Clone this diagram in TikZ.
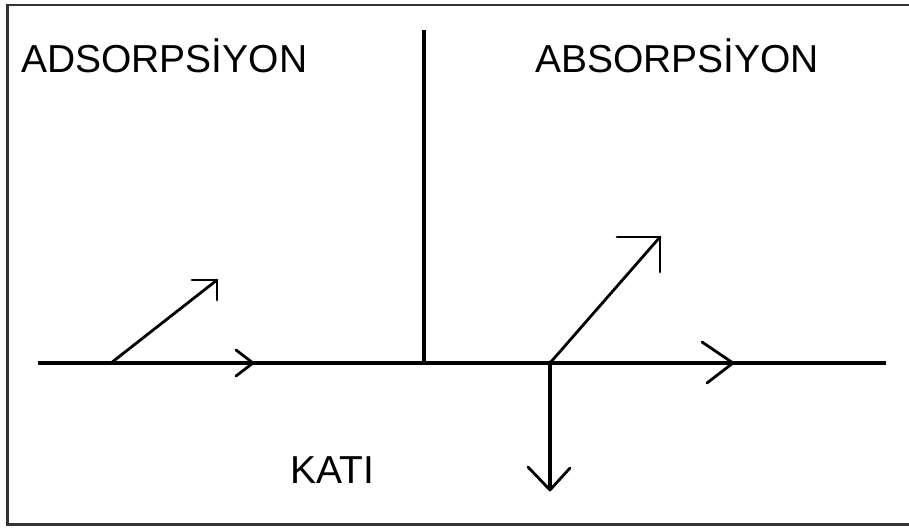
\documentclass[tikz,border=0pt]{standalone}
\usepackage{fontspec}
\setmainfont{Liberation Sans}
\begin{document}
\begin{tikzpicture}[x=1pt,y=-1pt,
  ln/.style={line width=3.5pt,black},
  thin/.style={line width=2.8pt,black,line cap=round,line join=round},
  lbl/.style={anchor=base west,inner sep=0pt,font=\fontsize{39}{44}\selectfont}]
\useasboundingbox (0,0) rectangle (909,527);
% frame
\draw[line width=2.5pt,black!80] (915,5) -- (7.5,5) -- (7.5,524.5) -- (915,524.5);
% labels
\node[lbl] (ads) at (21,72) {ADSORPS\char"0130 YON};
\node[lbl] (abs) at (535,72) {ABSORPS\char"0130 YON};
\node[lbl] (kati) at (290,483) {KATI};
% coordinates
\coordinate (L) at (38,363);
\coordinate (R) at (886,363);
\coordinate (vt) at (424,30);
\coordinate (vb) at (424,363);
\coordinate (a1) at (111,363);
\coordinate (a1t) at (217,280);
\coordinate (b1) at (550,363);
\coordinate (b1t) at (660,237);
\coordinate (dn) at (550,490);
% main lines
\draw[ln] (L) -- (R);
\draw[ln] (vt) -- (vb);
% left: diagonal arrow
\draw[thin] (a1) -- (a1t);
\draw[thin] (192,280) -- (a1t) -- (217,300);
% left chevron
\draw[thin] (236,350) -- (253,363) -- (236,376);
% right: diagonal arrow
\draw[thin] (b1) -- (b1t);
\draw[thin] (617,237) -- (b1t) -- (660,272);
% right chevron
\draw[thin] (702,342) -- (733,363) -- (707,383);
% down arrow
\draw[ln] (b1) -- (dn);
\draw[thin] (528,467) -- (dn) -- (570,468);
\fill (b1) circle (2.5);
\end{tikzpicture}
\end{document}
